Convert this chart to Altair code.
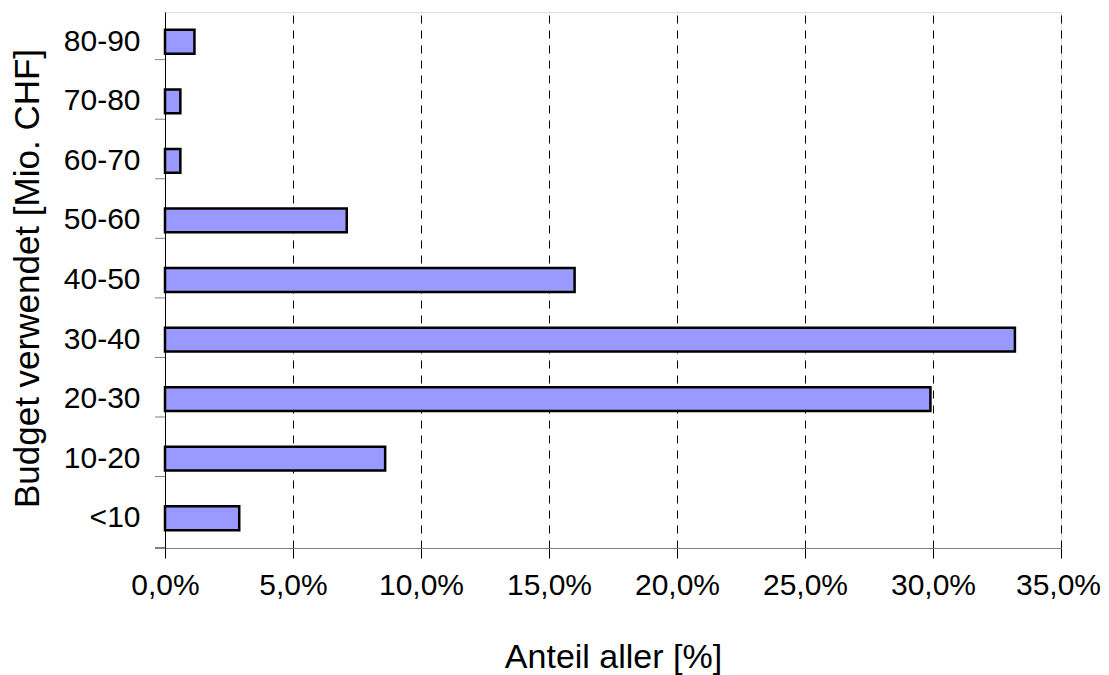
import altair as alt
import pandas as pd

categories = ["80-90", "70-80", "60-70", "50-60", "40-50", "30-40", "20-30", "10-20", "<10"]
shares = [1.15, 0.6, 0.6, 7.1, 16.0, 33.2, 29.9, 8.6, 2.9]
x_ticks = [0, 5, 10, 15, 20, 25, 30, 35]

df = pd.DataFrame({"cat": categories, "share": shares})

FONT = "Liberation Sans"
STEP = 536 / 9

y_enc = alt.Y(
    "cat:N",
    sort=categories,
    scale=alt.Scale(paddingInner=0.6, paddingOuter=0.3),
    axis=alt.Axis(
        title="Budget verwendet [Mio. CHF]",
        ticks=False,
        labelPadding=25,
        domainColor="black",
        domainWidth=1,
        grid=False,
        labelFont=FONT,
        labelFontSize=30,
        labelColor="black",
        titleFont=FONT,
        titleFontSize=35,
        titleFontWeight="normal",
        titleColor="black",
        titleAngle=270,
        titleBaseline="alphabetic",
        titleX=-127,
        titleY=266,
    ),
)

bars = alt.Chart(df).mark_bar(
    color="#9999FF", stroke="black", strokeWidth=2.5
).encode(
    x=alt.X(
        "share:Q",
        scale=alt.Scale(domain=[0, 35], nice=False, zero=True),
        axis=alt.Axis(
            values=x_ticks,
            labelExpr="replace(format(datum.value, '.1f'), '.', ',') + '%'",
            title="Anteil aller [%]",
            grid=True,
            gridColor="black",
            gridDash=[8, 7],
            gridWidth=1,
            gridOpacity=1,
            domainColor="#808080",
            domainWidth=1,
            tickColor="black",
            tickSize=10,
            labelPadding=12,
            labelFlush=False,
            labelOverlap=False,
            labelOffset={"condition": {"test": "datum.value >= 35", "value": -3}, "value": 0},
            labelFont=FONT,
            labelFontSize=30,
            labelColor="black",
            titleFont=FONT,
            titleFontSize=34,
            titleFontWeight="normal",
            titleColor="black",
            titleBaseline="alphabetic",
            titleY=119,
        ),
    ),
    y=y_enc,
)

# y-axis ticks at the band boundaries (between categories)
band_ticks = alt.Chart(df).mark_rule(color="#808080", strokeWidth=1).encode(
    y=alt.Y("cat:N", sort=categories),
    yOffset=alt.value(-STEP / 2),
    x=alt.value(-10),
    x2=alt.value(0),
)

bottom_tick = alt.Chart(df).mark_rule(color="#808080", strokeWidth=1).encode(
    x=alt.value(-10), x2=alt.value(0), y=alt.value(536)
)

chart = alt.layer(bars, band_ticks, bottom_tick).properties(
    width=896,
    height=536,
    autosize=alt.AutoSizeParams(type="none"),
    padding={"left": 157, "top": 4, "right": 40, "bottom": 127},
).configure_view(stroke="transparent", strokeWidth=0).configure(background="white")

chart.save("out.html", embed_options={"renderer": "svg", "actions": False})
